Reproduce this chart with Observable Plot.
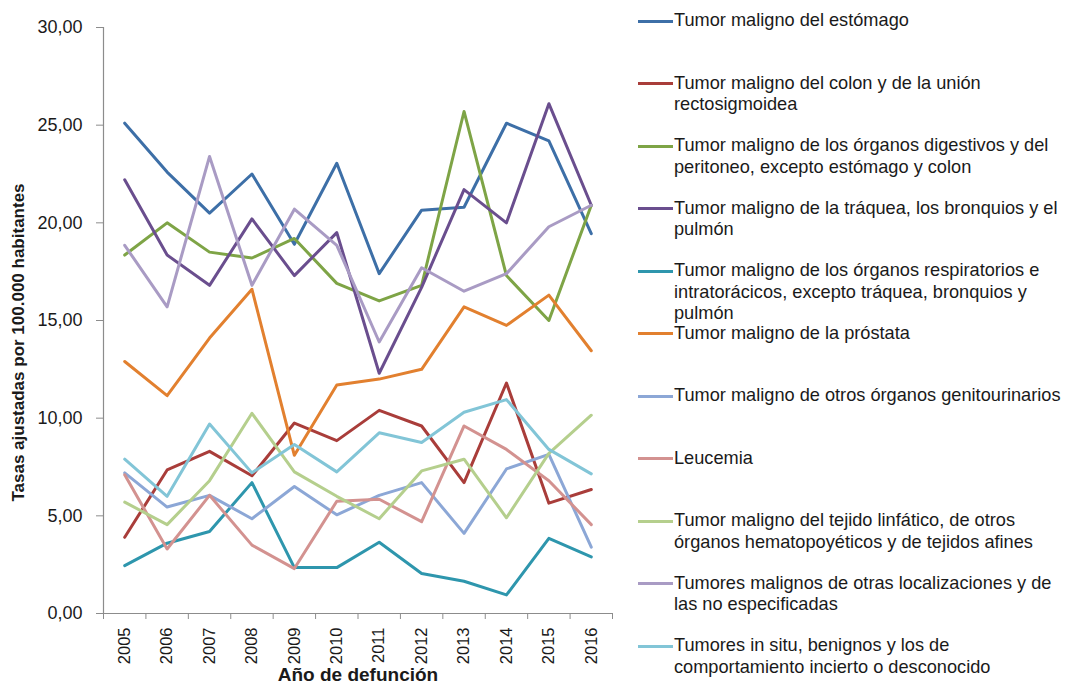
<!DOCTYPE html>
<html>
<head>
<meta charset="utf-8">
<script src="https://cdn.jsdelivr.net/npm/d3@7"></script>
<script src="https://cdn.jsdelivr.net/npm/@observablehq/plot@0.6"></script>
<style>
  html, body { margin: 0; padding: 0; background: #fff; }
  #wrap { position: relative; width: 1068px; height: 685px; overflow: hidden; }
  #legend { position: absolute; left: 638px; top: 10px; font-family: "Liberation Sans", Arial, sans-serif; font-size: 18.2px; color: #1a1a1a; }
  .entry { position: relative; height: 62.5px; }
  .swatch { position: absolute; left: 0; top: 9.5px; width: 35px; height: 3px; }
  .label { position: absolute; left: 36px; top: 0; line-height: 21.5px; white-space: pre; }
</style>
</head>
<body>
<div id="wrap"><div id="chart"></div><div id="legend"></div></div>
<script>
const years = [2005, 2006, 2007, 2008, 2009, 2010, 2011, 2012, 2013, 2014, 2015, 2016];
const seriesNames = [
  "Tumor maligno del estómago",
  "Tumor maligno del colon y de la unión\nrectosigmoidea",
  "Tumor maligno de los órganos digestivos y del\nperitoneo, excepto estómago y colon",
  "Tumor maligno de la tráquea, los bronquios y el\npulmón",
  "Tumor maligno de los órganos respiratorios e\nintratorácicos, excepto tráquea, bronquios y\npulmón",
  "Tumor maligno de la próstata",
  "Tumor maligno de otros órganos genitourinarios",
  "Leucemia",
  "Tumor maligno del tejido linfático, de otros\nórganos hematopoyéticos y de tejidos afines",
  "Tumores malignos de otras localizaciones y de\nlas no especificadas",
  "Tumores in situ, benignos y los de\ncomportamiento incierto o desconocido"
];
const seriesColors = ["#3d6fa7", "#a93d3a", "#7ea446", "#6a4e8e", "#2e96ad", "#e2802f", "#8ca7d6", "#d39290", "#b5cf8d", "#a99bc4", "#82c5d7"];

const estomago      = [25.1, 22.6, 20.5, 22.5, 18.9, 23.05, 17.4, 20.65, 20.8, 25.1, 24.2, 19.45];
const colon         = [3.9, 7.35, 8.3, 7.05, 9.75, 8.85, 10.4, 9.6, 6.7, 11.8, 5.65, 6.35];
const digestivos    = [18.35, 20.0, 18.5, 18.2, 19.2, 16.9, 16.0, 16.8, 25.7, 17.3, 15.0, 20.9];
const traquea       = [22.2, 18.35, 16.8, 20.2, 17.3, 19.5, 12.3, 16.7, 21.7, 20.0, 26.1, 20.9];
const respiratorios = [2.45, 3.6, 4.2, 6.7, 2.35, 2.35, 3.65, 2.05, 1.65, 0.95, 3.85, 2.9];
const prostata      = [12.9, 11.15, 14.1, 16.6, 8.1, 11.7, 12.0, 12.5, 15.7, 14.75, 16.3, 13.45];
const genitourin    = [7.2, 5.45, 6.05, 4.85, 6.5, 5.05, 6.05, 6.7, 4.1, 7.4, 8.15, 3.4];
const leucemia      = [7.1, 3.3, 6.05, 3.5, 2.3, 5.75, 5.85, 4.7, 9.6, 8.4, 6.8, 4.55];
const linfatico     = [5.7, 4.55, 6.8, 10.25, 7.25, 6.0, 4.85, 7.3, 7.9, 4.9, 8.2, 10.15];
const otras         = [18.85, 15.7, 23.4, 16.8, 20.7, 18.85, 13.9, 17.7, 16.5, 17.4, 19.8, 20.9];
const inSitu        = [7.9, 6.0, 9.7, 7.2, 8.65, 7.25, 9.25, 8.75, 10.3, 10.95, 8.4, 7.15];

const seriesValues = [estomago, colon, digestivos, traquea, respiratorios, prostata, genitourin, leucemia, linfatico, otras, inSitu];
const yTicks = [0, 5, 10, 15, 20, 25, 30];
const yTitle = "Tasas ajustadas por 100.000 habitantes";
const xTitle = "Año de defunción";

const data = [];
seriesNames.forEach((name, i) => seriesValues[i].forEach((v, j) => data.push({year: years[j], value: v, series: name})));
const boundaries = [...years.map(y => y - 0.5), years[years.length - 1] + 0.5];
const x0 = years[0] - 0.5, x1 = years[years.length - 1] + 0.5;

const chart = Plot.plot({
  width: 1068,
  height: 685,
  marginLeft: 103,
  marginRight: 456,
  marginTop: 27,
  marginBottom: 72,
  style: {fontFamily: "'Liberation Sans', Arial, sans-serif", background: "#fff", color: "#1a1a1a"},
  x: {type: "linear", domain: [x0, x1]},
  y: {type: "linear", domain: [0, 30]},
  color: {domain: seriesNames, range: seriesColors},
  marks: [
    Plot.axisY({ticks: yTicks, tickSize: 7, tickPadding: 14, stroke: "#8c8c8c", fill: "#1a1a1a", fontSize: 18,
      tickFormat: d => d.toFixed(2).replace(".", ","), label: null}),
    Plot.axisX({ticks: boundaries, tickSize: 6, stroke: "#8c8c8c", tickFormat: () => "", label: null}),
    Plot.axisX({ticks: years, tickSize: 0, tickPadding: 14, tickRotate: -90, fill: "#1a1a1a",
      fontSize: 16.5, tickFormat: d => String(d), label: null}),
    Plot.ruleX([x0], {stroke: "#8c8c8c", strokeWidth: 1.2}),
    Plot.ruleY([0], {stroke: "#8c8c8c", strokeWidth: 1.2}),
    Plot.line(data, {x: "year", y: "value", z: "series", stroke: "series", strokeWidth: 3, strokeLinejoin: "round", strokeLinecap: "round"}),
    Plot.text([yTitle], {frameAnchor: "left", textAnchor: "middle", dx: -85, dy: 22, rotate: -90, fontWeight: "bold", fontSize: 17, fill: "#1a1a1a"}),
    Plot.text([xTitle], {frameAnchor: "bottom", textAnchor: "middle", dy: 67, fontWeight: "bold", fontSize: 19, fill: "#1a1a1a"})
  ]
});
document.getElementById("chart").appendChild(chart);

const legend = document.getElementById("legend");
seriesNames.forEach((name, i) => {
  const e = document.createElement("div");
  e.className = "entry";
  const s = document.createElement("div");
  s.className = "swatch";
  s.style.background = seriesColors[i];
  const t = document.createElement("div");
  t.className = "label";
  t.textContent = name;
  e.appendChild(s);
  e.appendChild(t);
  legend.appendChild(e);
});
</script>
</body>
</html>
